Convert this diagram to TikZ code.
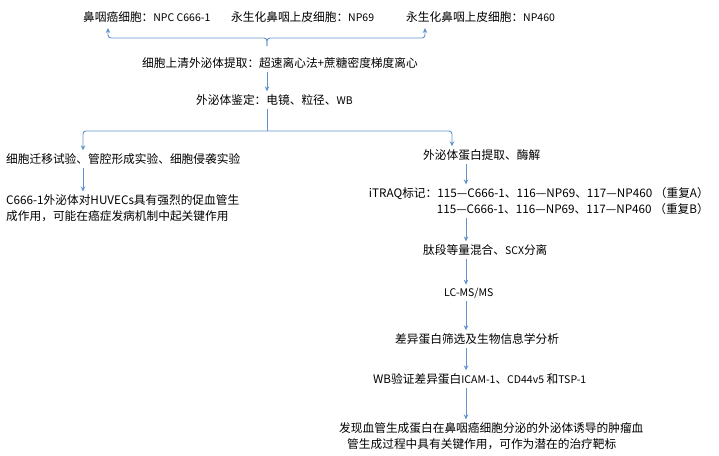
\documentclass[tikz,border=0pt]{standalone}
\usepackage{fontspec}
\setmainfont{Noto Sans CJK SC}
\usetikzlibrary{arrows.meta,positioning}
\definecolor{linkblue}{RGB}{96,146,204}
\newcommand{\smallrm}[1]{{\fontsize{10.5}{15.5}\selectfont #1}}

\begin{document}
\begin{tikzpicture}[->,>={Stealth[length=5pt,width=4.5pt]},x=1pt,y=-1pt,
    every node/.style={font=\fontsize{11.7}{15.5}\selectfont},
    step node/.style={anchor=west,inner sep=3pt,align=left},
    link/.style={draw=linkblue,line width=0.9pt},
    bracket/.style={link,rounded corners=3pt}]

\useasboundingbox (0,0) rectangle (719,455);

% cell lines
\node[step node] (c666)  at (80,17)  {鼻咽癌细胞：\smallrm{NPC C666-1}};
\node[step node] (np69)  at (228,17) {永生化鼻咽上皮细胞：\smallrm{NP69}};
\node[step node] (np460) at (403,17) {永生化鼻咽上皮细胞：\smallrm{NP460}};

\node[step node] (extract) at (139,63)  {细胞上清外泌体提取：超速离心法+蔗糖密度梯度离心};
\node[step node] (ident)   at (193,100) {外泌体鉴定：电镜、粒径、\smallrm{WB}};

% left branch
\node[step node] (func)  at (3,159) {细胞迁移试验、管腔形成实验、细胞侵袭实验};
\node[step node] (concl) at (3,208) {C666-1外泌体对HUVECs具有强烈的促血管生\\成作用，可能在癌症发病机制中起关键作用};

% right branch
\node[step node] (prot)  at (420,155) {外泌体蛋白提取、酶解};
\node[step node,anchor=east,align=right] (itraq) at (712,201)
    {iTRAQ标记：115—C666-1、116—NP69、117—NP460 （重复A）\\115—C666-1、116—NP69、117—NP460 （重复B）};
\node[step node] (pep)   at (420,250) {肽段等量混合、\smallrm{SCX}分离};
\node[step node] (lcms)  at (441,293) {\smallrm{LC-MS/MS}};
\node[step node] (diff)  at (392,339) {差异蛋白筛选及生物信息学分析};
\node[step node] (wb)    at (370,379) {WB验证差异蛋白\smallrm{ICAM-1}、\smallrm{CD44v5} 和\smallrm{TSP-1}};
\node[step node] (find)  at (336,436) {发现血管生成蛋白在鼻咽癌细胞分泌的外泌体诱导的肿瘤血\\\hspace{8pt}管生成过程中具有关键作用，可作为潜在的治疗靶标};

\coordinate (split1) at (267,46);
\coordinate (split2) at (267,131);
\coordinate (toA) at (108,28);
\coordinate (toC) at (425,28);
\coordinate (colL) at (83,0);
\coordinate (colB) at (452,0);
\coordinate (colR) at (466,0);

\draw[bracket] (split1) -- ++(0,-8) -| (toA);
\draw[bracket] (split1) -- ++(0,-8) -| (toC);
\draw[link] (extract.south -| split1) -- (ident.north -| split1);
\draw[bracket,-] (ident.south -| split1) -- (split2);
\draw[bracket] (split2) -| (func.north -| colL);
\draw[bracket] (split2) -| (prot.north -| colB);

\draw[link] (func.south -| colL) -- (concl.north -| colL);
\draw[link] (prot.south -| colR) -- (itraq.north -| colR);
\draw[link] (itraq.south -| colR) -- (pep.north -| colR);
\draw[link] (pep.south -| colR) -- (lcms.north -| colR);
\draw[link] (lcms.south -| colR) -- (diff.north -| colR);
\draw[link] (diff.south -| colR) -- (wb.north -| colR);
\draw[link] (wb.south -| colR) -- (find.north -| colR);
\end{tikzpicture}
\end{document}
